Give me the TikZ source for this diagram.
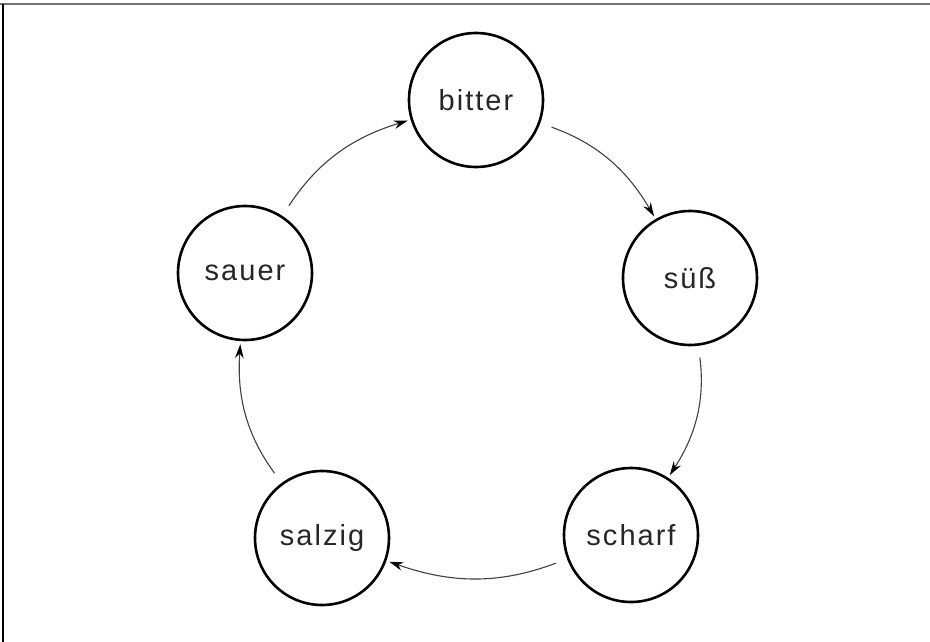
\documentclass[tikz,border=0pt]{standalone}
\usepackage{fontspec}
\usetikzlibrary{arrows.meta}
\newfontfamily\lblfont{Liberation Sans}[LetterSpace=7]
\tikzset{
  taste/.style={circle, draw=black, line width=2.6pt, minimum size=134pt,
    inner sep=0pt, font=\lblfont\fontsize{29}{32}\selectfont, text=black!85},
  flow/.style={draw=black!75, line width=1.1pt,
    -{Stealth[length=14pt,width=8.5pt,black]}, shorten <=12pt, shorten >=3pt},
}
\begin{document}
\begin{tikzpicture}[x=1pt,y=-1pt]
  \useasboundingbox (0,0) rectangle (930,642);
  % frame: grey rule on top, thin black rule on the left
  \draw[black!55, line width=2.5pt] (0,4) -- (930,4);
  \draw[black, line width=1.2pt] (3,4) -- (3,642);

  \node[taste] (bitter) at (476,100) {bitter};
  \node[taste] (suess)  at (690,278) {süß};
  \node[taste] (scharf) at (631,535) {scharf};
  \node[taste] (salzig) at (322,538) {salzig};
  \node[taste] (sauer)  at (245,273) {sauer};

  \draw[flow] (bitter) to[bend left=20] (suess);
  \draw[flow] (suess)  to[bend left=20] (scharf);
  \draw[flow] (scharf) to[bend left=20] (salzig);
  \draw[flow] (salzig) to[bend left=20] (sauer);
  \draw[flow] (sauer)  to[bend left=20] (bitter);
\end{tikzpicture}
\end{document}
